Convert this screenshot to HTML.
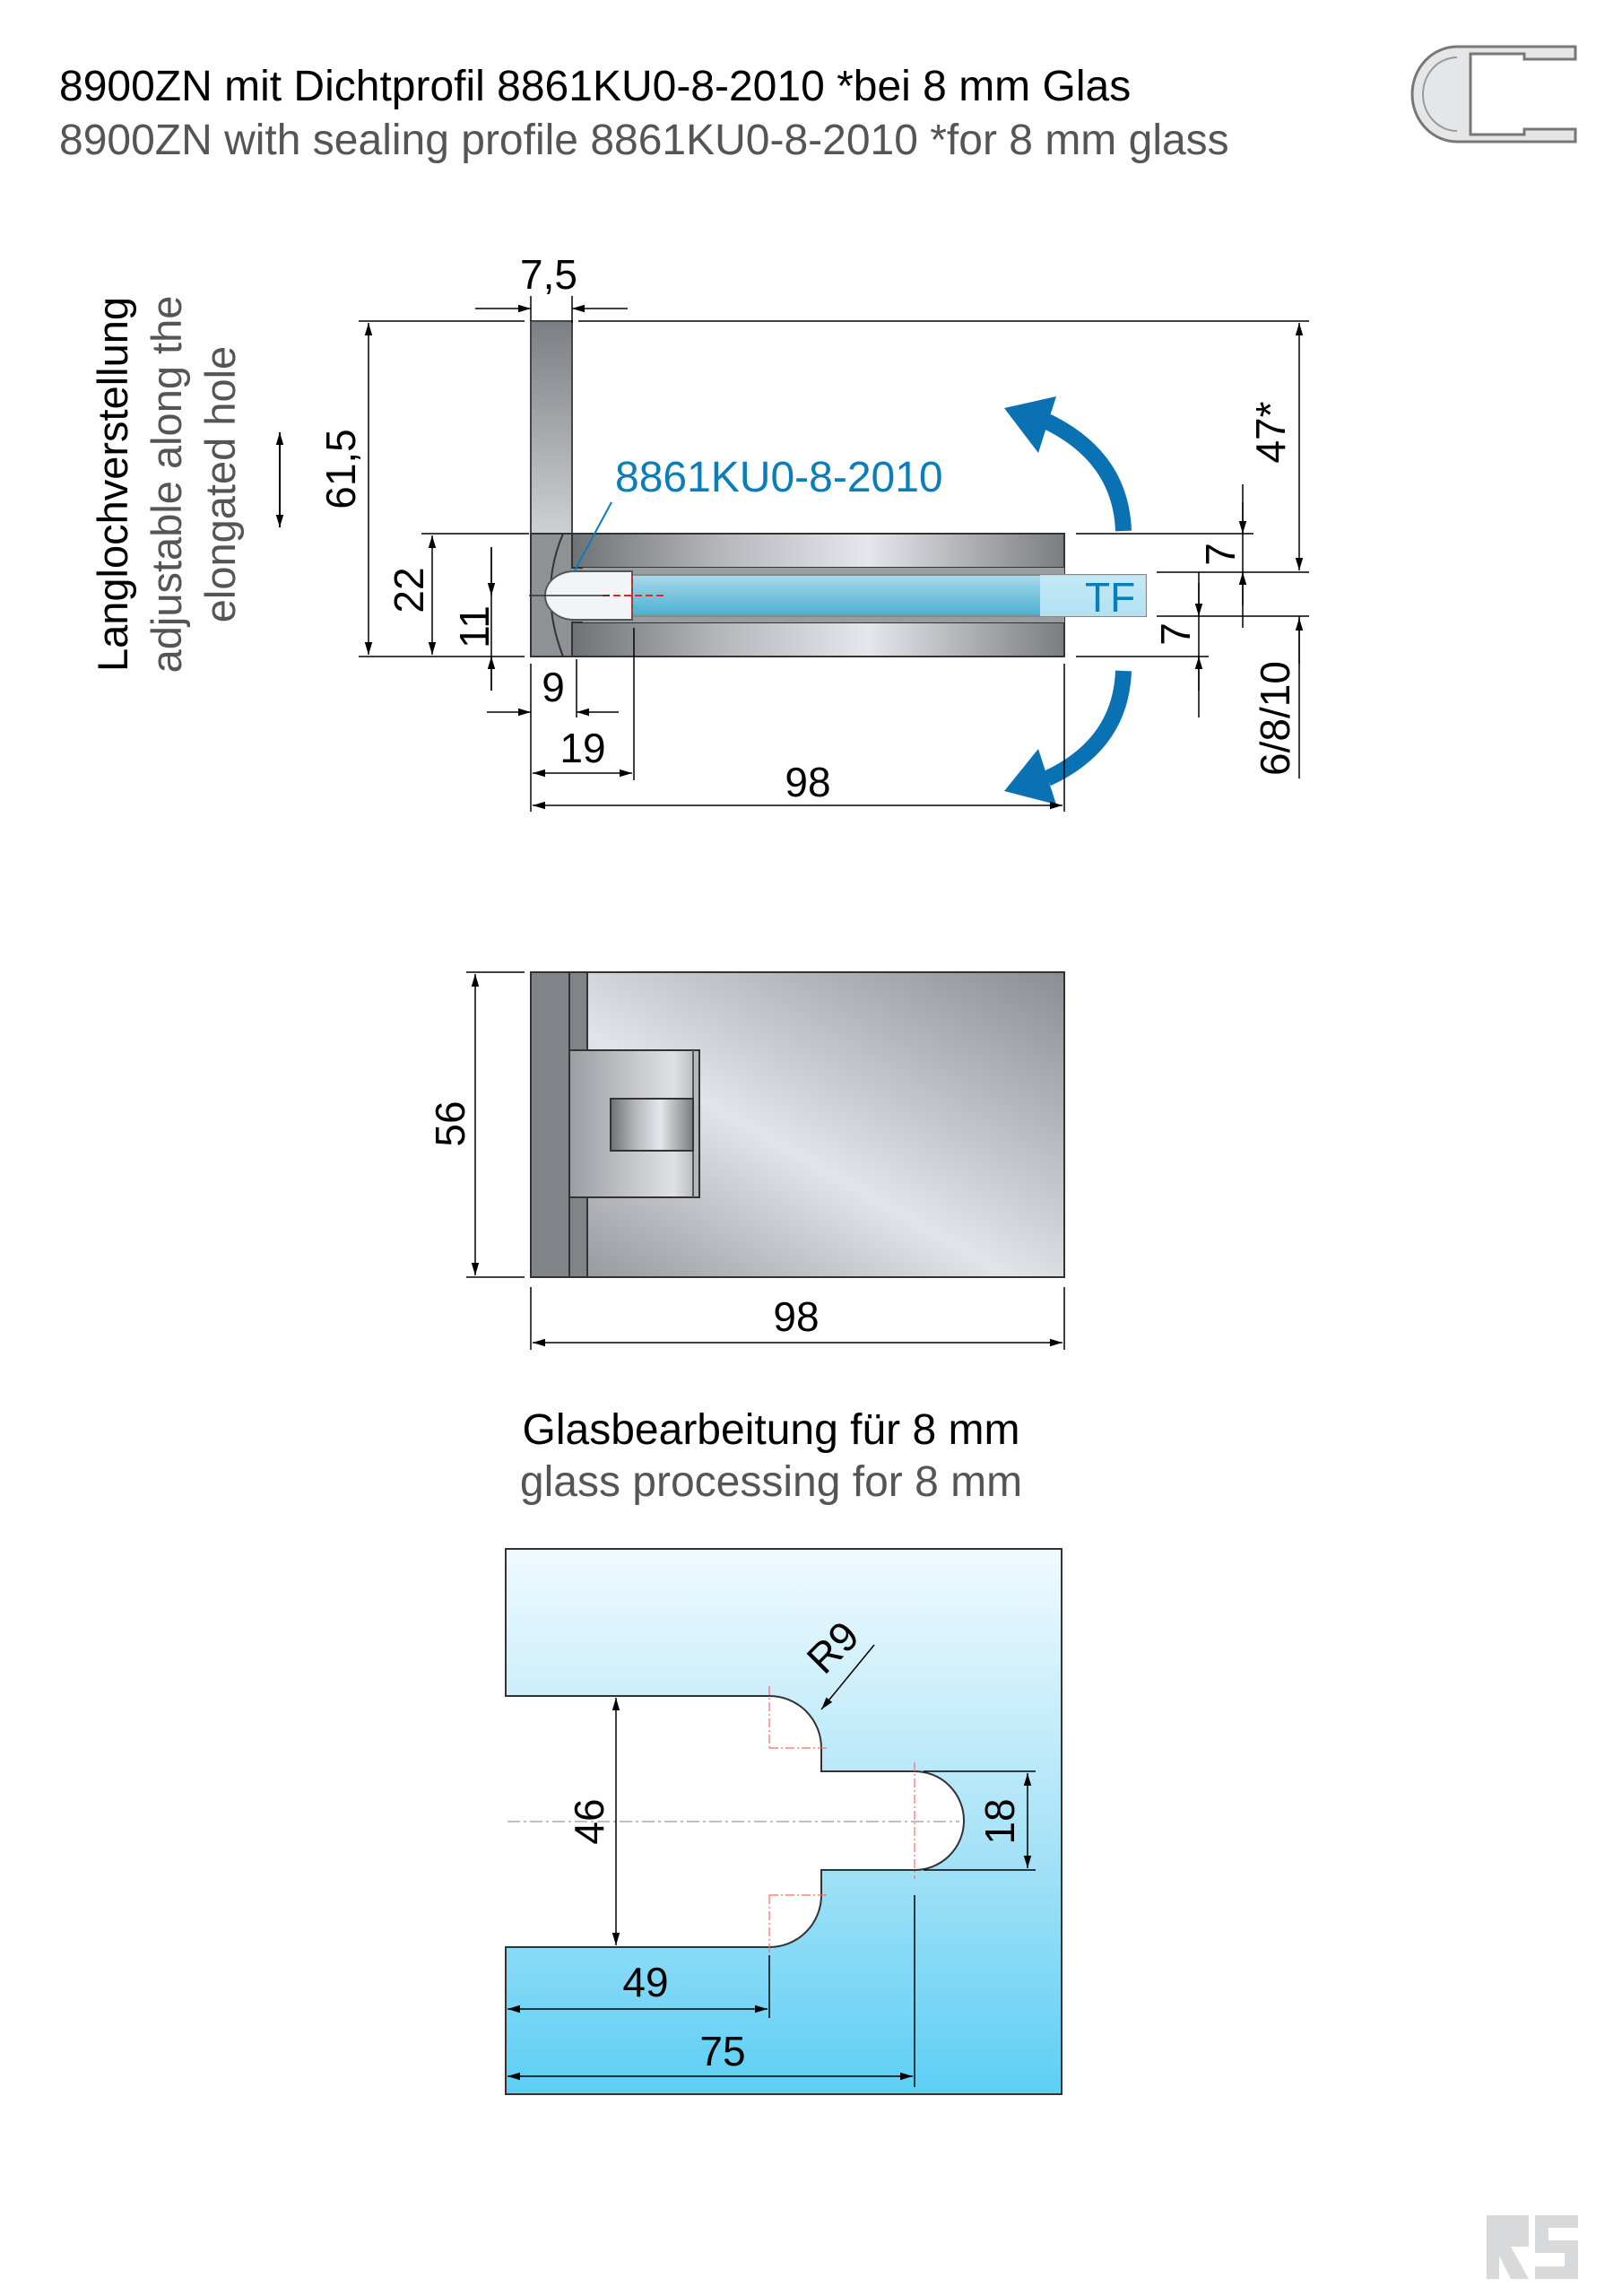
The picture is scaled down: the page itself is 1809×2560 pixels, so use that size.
<!DOCTYPE html>
<html><head><meta charset="utf-8"><style>
html,body{margin:0;padding:0;background:#fff}
svg{display:block}
text{font-family:"Liberation Sans",Arial,sans-serif}
</style></head><body>
<svg width="1809" height="2560" viewBox="0 0 1809 2560" xmlns="http://www.w3.org/2000/svg">
<defs>
<linearGradient id="bar" x1="0" x2="1" y1="0" y2="0">
<stop offset="0" stop-color="#6f7275"/><stop offset="0.3" stop-color="#b5b7bb"/><stop offset="0.6" stop-color="#e6e7ec"/><stop offset="1" stop-color="#7a7d80"/></linearGradient>
<linearGradient id="plate" x1="0" x2="0" y1="0" y2="1">
<stop offset="0" stop-color="#7b7e82"/><stop offset="1" stop-color="#cfd0d4"/></linearGradient>
<linearGradient id="glassb" x1="0" x2="0" y1="0" y2="1">
<stop offset="0" stop-color="#a9d9ea"/><stop offset="1" stop-color="#4ab0d0"/></linearGradient>
<linearGradient id="big" x1="0" x2="1" y1="1" y2="0">
<stop offset="0" stop-color="#8d9094"/><stop offset="0.45" stop-color="#e3e4e9"/><stop offset="1" stop-color="#8a8d91"/></linearGradient>
<linearGradient id="rec" x1="0" x2="1" y1="0" y2="0">
<stop offset="0" stop-color="#9a9da1"/><stop offset="0.8" stop-color="#e0e1e5"/><stop offset="1" stop-color="#b0b2b6"/></linearGradient>
<linearGradient id="gl" x1="0" x2="0" y1="0" y2="1">
<stop offset="0" stop-color="#f0faff"/><stop offset="0.6" stop-color="#9fe0f6"/><stop offset="1" stop-color="#5ccff5"/></linearGradient>
<marker id="a" viewBox="0 0 10 10" refX="10" refY="5" markerWidth="14" markerHeight="14" markerUnits="userSpaceOnUse" orient="auto-start-reverse"><path d="M0,2 L10,5 L0,8z" fill="#000"/></marker>
</defs>

<text x="66" y="112" font-size="48" fill="#000">8900ZN mit Dichtprofil 8861KU0-8-2010 *bei 8 mm Glas</text>
<text x="66" y="172" font-size="48" fill="#555">8900ZN with sealing profile 8861KU0-8-2010 *for 8 mm glass</text>

<path d="M1625,52 H1757 V66 H1700 V60 H1640 V150 H1700 V144 H1757 V158 H1625 A50,53 0 0 1 1625,52 Z" fill="#e4e6e8" stroke="#777" stroke-width="3"/>
<path d="M1625,64 A38,41 0 0 0 1625,146" fill="none" stroke="#999" stroke-width="2"/>

<g transform="translate(142,540) rotate(-90)">
<text x="0" y="0" font-size="47" text-anchor="middle" fill="#000">Langlochverstellung</text>
<text x="0" y="60" font-size="47" text-anchor="middle" fill="#555">adjustable along the</text>
<text x="0" y="120" font-size="47" text-anchor="middle" fill="#555">elongated hole</text>
</g>
<line x1="312" y1="482" x2="312" y2="588" stroke="#000" stroke-width="2" marker-start="url(#a)" marker-end="url(#a)"/>

<rect x="592" y="358" width="46" height="237" fill="url(#plate)" stroke="#444" stroke-width="2"/>
<rect x="592" y="595" width="595" height="137" fill="#8e9195" stroke="#333" stroke-width="2"/>
<rect x="638" y="595" width="549" height="38" fill="url(#bar)" stroke="#333" stroke-width="2"/>
<rect x="638" y="694" width="549" height="38" fill="url(#bar)" stroke="#333" stroke-width="2"/>
<rect x="650" y="633" width="537" height="61" fill="#9a9ca0"/>
<path d="M628,595 Q600,660 628,732" fill="none" stroke="#333" stroke-width="2"/>
<rect x="640" y="641" width="638" height="46" fill="url(#glassb)" stroke="#888" stroke-width="2"/>
<rect x="1160" y="641" width="118" height="46" fill="#cbeefa" opacity="0.8"/>
<path d="M640,637 H705 V691 H640 A32,27 0 0 1 640,637Z" fill="#f2f4f5" stroke="#555" stroke-width="2"/>
<text x="1210" y="682" font-size="46" fill="#0a7dbb">TF</text>
<line x1="672" y1="664" x2="742" y2="664" stroke="#e22" stroke-width="2" stroke-dasharray="8 4"/>
<line x1="705" y1="641" x2="705" y2="687" stroke="#e22" stroke-width="2" stroke-dasharray="6 3"/>
<line x1="590" y1="664" x2="680" y2="664" stroke="#333" stroke-width="1.5"/>
<text x="686" y="548" font-size="48" fill="#0a7dbb">8861KU0-8-2010</text>
<line x1="682" y1="560" x2="640" y2="638" stroke="#0a7dbb" stroke-width="2"/>

<path d="M1253,592 Q1250,510 1168,470" fill="none" stroke="#0a72b3" stroke-width="18"/>
<path d="M1120,455 L1178,442 L1158,505 Z" fill="#0a72b3"/>
<path d="M1253,748 Q1250,830 1168,868" fill="none" stroke="#0a72b3" stroke-width="18"/>
<path d="M1120,882 L1178,897 L1158,835 Z" fill="#0a72b3"/>

<g stroke="#000" stroke-width="1.5" fill="none">
<line x1="400" y1="358" x2="585" y2="358"/><line x1="645" y1="358" x2="1460" y2="358"/>
<line x1="400" y1="732" x2="585" y2="732"/>
<line x1="470" y1="595" x2="590" y2="595"/>
<line x1="1200" y1="595" x2="1398" y2="595"/>
<line x1="1290" y1="638" x2="1460" y2="638"/>
<line x1="1290" y1="687" x2="1460" y2="687"/>
<line x1="1200" y1="732" x2="1348" y2="732"/>
<line x1="592" y1="740" x2="592" y2="905"/>
<line x1="638" y1="360" x2="638" y2="330"/>
<line x1="592" y1="358" x2="592" y2="330"/>
<line x1="643" y1="735" x2="643" y2="800"/>
<line x1="707" y1="700" x2="707" y2="870"/>
<line x1="1187" y1="740" x2="1187" y2="905"/>
<line x1="1386" y1="540" x2="1386" y2="700"/>
<line x1="1337" y1="638" x2="1337" y2="800"/>
<line x1="1449" y1="687" x2="1449" y2="868"/>
<line x1="548" y1="610" x2="548" y2="770"/>
<line x1="530" y1="344" x2="592" y2="344" marker-end="url(#a)"/><line x1="700" y1="344" x2="638" y2="344" marker-end="url(#a)"/>
<line x1="411" y1="360" x2="411" y2="730" marker-start="url(#a)" marker-end="url(#a)"/>
<line x1="482" y1="597" x2="482" y2="730" marker-start="url(#a)" marker-end="url(#a)"/>
<line x1="548" y1="610" x2="548" y2="664" marker-end="url(#a)"/><line x1="548" y1="770" x2="548" y2="732" marker-end="url(#a)"/>
<line x1="543" y1="794" x2="592" y2="794" marker-end="url(#a)"/><line x1="690" y1="794" x2="643" y2="794" marker-end="url(#a)"/>
<line x1="594" y1="862" x2="705" y2="862" marker-start="url(#a)" marker-end="url(#a)"/>
<line x1="594" y1="898" x2="1185" y2="898" marker-start="url(#a)" marker-end="url(#a)"/>
<line x1="1449" y1="360" x2="1449" y2="636" marker-start="url(#a)" marker-end="url(#a)"/>
<line x1="1449" y1="740" x2="1449" y2="689" marker-end="url(#a)"/>
<line x1="1386" y1="560" x2="1386" y2="595" marker-end="url(#a)"/><line x1="1386" y1="675" x2="1386" y2="638" marker-end="url(#a)"/>
<line x1="1337" y1="650" x2="1337" y2="687" marker-end="url(#a)"/><line x1="1337" y1="770" x2="1337" y2="732" marker-end="url(#a)"/>
</g>
<g font-size="46" fill="#000">
<text x="612" y="322" text-anchor="middle">7,5</text>
<text transform="translate(396,523) rotate(-90)" text-anchor="middle">61,5</text>
<text transform="translate(472,658) rotate(-90)" text-anchor="middle">22</text>
<text transform="translate(545,699) rotate(-90)" text-anchor="middle">11</text>
<text x="617" y="782" text-anchor="middle">9</text>
<text x="650" y="850" text-anchor="middle">19</text>
<text x="901" y="888" text-anchor="middle">98</text>
<text transform="translate(1433,482) rotate(-90)" text-anchor="middle">47*</text>
<text transform="translate(1377,618) rotate(-90)" text-anchor="middle">7</text>
<text transform="translate(1327,707) rotate(-90)" text-anchor="middle">7</text>
<text transform="translate(1438,801) rotate(-90)" text-anchor="middle">6/8/10</text>
</g>

<rect x="592" y="1084" width="595" height="340" fill="url(#big)" stroke="#333" stroke-width="2"/>
<rect x="592" y="1084" width="63" height="340" fill="#808387" stroke="#333" stroke-width="2"/>
<line x1="635" y1="1084" x2="635" y2="1424" stroke="#333" stroke-width="2"/>
<rect x="635" y="1171" width="145" height="164" fill="url(#rec)" stroke="#333" stroke-width="2"/>
<line x1="773" y1="1171" x2="773" y2="1335" stroke="#555" stroke-width="2"/>
<rect x="681" y="1225" width="92" height="58" fill="url(#bar)" stroke="#333" stroke-width="2"/>
<g stroke="#000" stroke-width="1.5" fill="none">
<line x1="520" y1="1084" x2="585" y2="1084"/><line x1="520" y1="1424" x2="585" y2="1424"/>
<line x1="530" y1="1086" x2="530" y2="1422" marker-start="url(#a)" marker-end="url(#a)"/>
<line x1="592" y1="1435" x2="592" y2="1505"/><line x1="1187" y1="1435" x2="1187" y2="1505"/>
<line x1="594" y1="1497" x2="1185" y2="1497" marker-start="url(#a)" marker-end="url(#a)"/>
</g>
<text transform="translate(518,1253) rotate(-90)" font-size="46" text-anchor="middle">56</text>
<text x="888" y="1484" font-size="46" text-anchor="middle">98</text>

<text x="860" y="1610" font-size="48" text-anchor="middle" fill="#000">Glasbearbeitung für 8 mm</text>
<text x="860" y="1668" font-size="48" text-anchor="middle" fill="#555">glass processing for 8 mm</text>

<path d="M564,1727 H1184 V2335 H564 V2171 H858 A58,58 0 0 0 916,2113 V2085 H1020 A55,55 0 0 0 1020,1975 H916 V1949 A58,58 0 0 0 858,1891 H564 Z" fill="url(#gl)" stroke="#333" stroke-width="2"/>
<g stroke="#f66" stroke-width="1.2" fill="none" stroke-dasharray="10 3 2 3">
<line x1="858" y1="1880" x2="858" y2="1950"/><line x1="858" y1="1949" x2="925" y2="1949"/>
<line x1="858" y1="2113" x2="925" y2="2113"/><line x1="858" y1="2113" x2="858" y2="2185"/>
<line x1="1020" y1="1965" x2="1020" y2="2095"/>
</g>
<line x1="566" y1="2031" x2="1070" y2="2031" stroke="#999" stroke-width="1.2" stroke-dasharray="14 4 3 4"/>
<g stroke="#000" stroke-width="1.5" fill="none">
<line x1="687" y1="1893" x2="687" y2="2169" marker-start="url(#a)" marker-end="url(#a)"/>
<line x1="1030" y1="1975" x2="1155" y2="1975"/><line x1="1030" y1="2085" x2="1155" y2="2085"/>
<line x1="1146" y1="1977" x2="1146" y2="2083" marker-start="url(#a)" marker-end="url(#a)"/>
<line x1="858" y1="2180" x2="858" y2="2250"/>
<line x1="566" y1="2240" x2="856" y2="2240" marker-start="url(#a)" marker-end="url(#a)"/>
<line x1="1020" y1="2113" x2="1020" y2="2327"/>
<line x1="566" y1="2315" x2="1018" y2="2315" marker-start="url(#a)" marker-end="url(#a)"/>
<line x1="975" y1="1834" x2="916" y2="1906" marker-end="url(#a)"/>
</g>
<g font-size="46" fill="#000">
<text transform="translate(673,2031) rotate(-90)" text-anchor="middle">46</text>
<text transform="translate(1131,2031) rotate(-90)" text-anchor="middle">18</text>
<text x="720" y="2226" text-anchor="middle">49</text>
<text x="806" y="2303" text-anchor="middle">75</text>
<text transform="translate(940,1848) rotate(-45)" text-anchor="middle">R9</text>
</g>

<g fill="#d8d9db">
<path d="M1658,2470 H1705 V2505 H1685 L1705,2541 H1685 L1672,2515 V2541 H1658 Z"/>
<path d="M1712,2470 H1760 V2484 H1727 V2498 H1760 V2541 H1712 V2527 H1745 V2512 H1712 Z"/>
</g>
</svg>
</body></html>
